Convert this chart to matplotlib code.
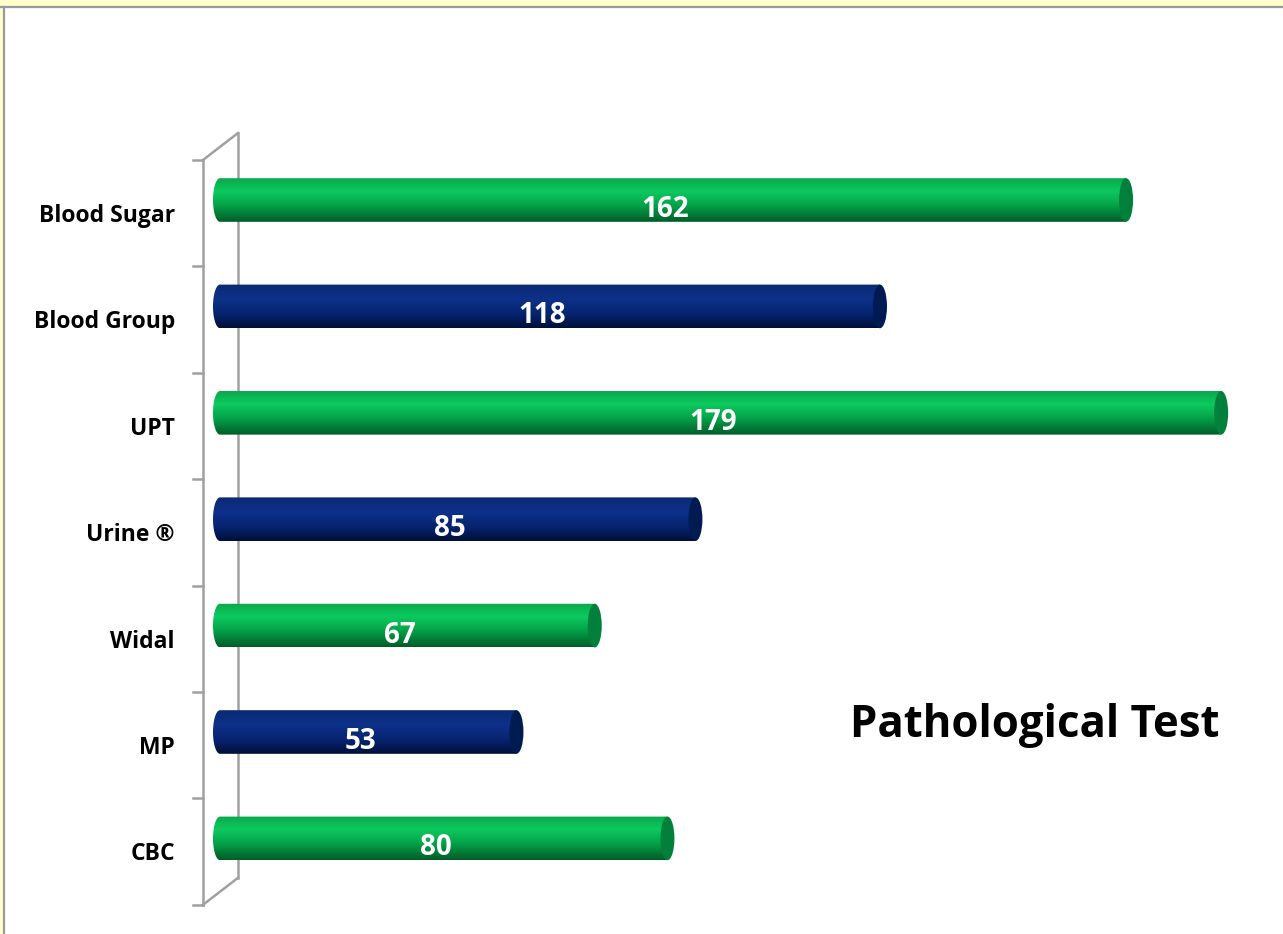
import numpy as np
import matplotlib
matplotlib.use("Agg")
import matplotlib.pyplot as plt
from matplotlib.colors import LinearSegmentedColormap
from matplotlib.patches import Ellipse, PathPatch, Rectangle
from matplotlib.path import Path

# data
tests = ['Blood Sugar', 'Blood Group', 'UPT', 'Urine \u00ae', 'Widal', 'MP', 'CBC']
counts = [162, 118, 179, 85, 67, 53, 80]
title = 'Pathological Test'

plt.rcParams['font.family'] = ['Open Sans', 'DejaVu Sans']

W, H = 1283, 934
fig = plt.figure(figsize=(W / 100, H / 100), dpi=100)
fig.patch.set_facecolor('white')

# frame: yellow band with gray line (top and left only)
yellow = '#FFFFCC'
fig.patches.append(Rectangle((0, 1 - 6 / H), 1, 6 / H, transform=fig.transFigure,
                             facecolor=yellow, edgecolor='none', zorder=0))
fig.patches.append(Rectangle((0, 0), 3 / W, 1, transform=fig.transFigure,
                             facecolor=yellow, edgecolor='none', zorder=0))
fig.add_artist(plt.Line2D([0, 1], [1 - 7 / H, 1 - 7 / H], transform=fig.transFigure,
                          color='#9A9A9A', lw=1.6))
fig.add_artist(plt.Line2D([4 / W, 4 / W], [0, 1 - 7 / H], transform=fig.transFigure,
                          color='#9A9A9A', lw=1.6))

x0 = 220  # pixel where value 0 sits
scale = 5.593  # px per unit
ypx0, step = 200, 106.4  # first bar centre, spacing (px)

ax = fig.add_axes([0, 0, 1, 1])
ax.set_facecolor('none')
ax.axis('off')

green = LinearSegmentedColormap.from_list('g', [(0, '#0AA84B'), (0.3, '#0CCA5F'),
                                                (0.6, '#04A54B'), (1, '#005C27')])
blue = LinearSegmentedColormap.from_list('b', [(0, '#0B2A74'), (0.35, '#0D318A'),
                                               (0.7, '#05226C'), (1, '#000F38')])
grad = np.linspace(0, 1, 256).reshape(-1, 1)

h = 0.41
cap = 7 / scale

for i, (name, v) in enumerate(zip(tests, counts)):
    cmap = green if i % 2 == 0 else blue
    capc = '#00803A' if i % 2 == 0 else '#001A52'
    top, bot = i - h / 2, i + h / 2
    verts = [(0, top), (v, top), (v, bot), (0, bot)]
    # rounded left end: from bottom around the left back to top
    arc = [(-cap * np.sin(a), i + h / 2 * np.cos(a)) for a in np.linspace(0, np.pi, 40)]
    clip = PathPatch(Path(verts + arc + [(0, top)]), facecolor='none', edgecolor='none')
    ax.add_patch(clip)
    im = ax.imshow(grad, cmap=cmap, aspect='auto', extent=[-cap, v, bot, top],
                   interpolation='bilinear', zorder=2)
    im.set_clip_path(clip)
    ax.add_patch(Ellipse((v, i), 2 * cap, h, facecolor=capc, edgecolor='none', zorder=3))
    ax.text(v / 2 - 1.4, i + 0.09, str(v), color='white', fontsize=20, fontweight='bold',
            ha='center', va='center', zorder=4)
    ax.text(-8.05, i + 0.15, name, color='black', fontsize=16.5, fontweight='bold',
            ha='right', va='center', zorder=4)

# 3d wall outline
xl, xr = (203 - x0) / scale, (238 - x0) / scale
xt = (193 - x0) / scale
depth = 27 / step
tk = np.arange(len(tests) + 1) - 0.376
wall = dict(color='#A0A0A0', lw=1.8, zorder=1)
ax.plot([xl, xl], [tk[0], tk[-1]], **wall)
ax.plot([xr, xr], [tk[0] - depth, tk[-1] - depth], **wall)
ax.plot([xl, xr], [tk[0], tk[0] - depth], **wall)
ax.plot([xl, xr], [tk[-1], tk[-1] - depth], **wall)
for y in tk:
    ax.plot([xt, xl], [y, y], **wall)

ax.text((1035 - x0) / scale, (726 - ypx0) / step, title, fontsize=31.5, fontweight='bold',
        ha='center', va='center', color='black')

ax.set_xlim(-x0 / scale, (W - x0) / scale)
ax.set_ylim((H - ypx0) / step, -ypx0 / step)

fig.savefig('out.png', dpi=100)
